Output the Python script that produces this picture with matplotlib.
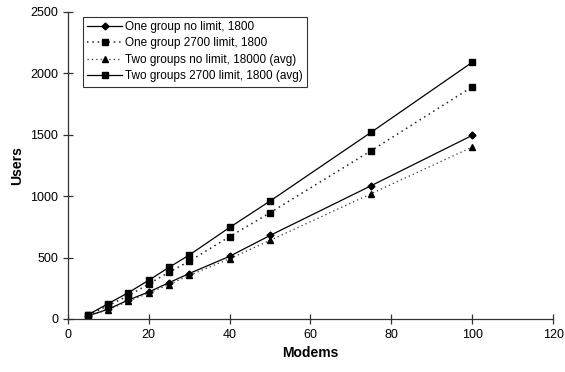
import matplotlib
matplotlib.use("Agg")
import matplotlib.pyplot as plt

modems = [5, 10, 15, 20, 25, 30, 40, 50, 75, 100]
one_no_limit = [25, 80, 155, 220, 295, 370, 510, 680, 1085, 1495]
one_2700 = [30, 110, 190, 285, 380, 470, 670, 865, 1370, 1890]
two_no_limit = [25, 75, 145, 210, 280, 355, 490, 640, 1020, 1400]
two_2700 = [35, 125, 215, 315, 420, 520, 745, 960, 1520, 2090]
labels = ["One group no limit, 1800", "One group 2700 limit, 1800",
          "Two groups no limit, 18000 (avg)", "Two groups 2700 limit, 1800 (avg)"]

plt.rcParams['font.family'] = ['Liberation Sans', 'DejaVu Sans']
fig = plt.figure(figsize=(5.65, 3.72), dpi=100)
ax = fig.add_axes([0.120, 0.1425, 0.859, 0.8255])

ax.plot(modems, one_no_limit, '-', color='black', lw=0.9, marker='D', ms=3.5, label=labels[0])
ax.plot(modems, one_2700, linestyle=(0, (1, 2.5)), color='#222222', lw=1.1, marker='s', ms=5,
        mfc='black', mec='black', label=labels[1])
ax.plot(modems, two_no_limit, linestyle=(0, (1, 2.5)), color='#333333', lw=0.9, marker='^', ms=4.5,
        mfc='black', mec='black', label=labels[2])
ax.plot(modems, two_2700, '-', color='black', lw=0.9, marker='s', ms=5, label=labels[3])

ax.set_xlim(0, 120)
ax.set_ylim(0, 2500)
ax.set_xticks(range(0, 121, 20))
ax.set_yticks(range(0, 2501, 500))
ax.tick_params(direction='inout', length=7, width=0.9, labelsize=9, color='#333333')
for s in ['top', 'right']:
    ax.spines[s].set_visible(False)
for s in ['left', 'bottom']:
    ax.spines[s].set_linewidth(0.9)
    ax.spines[s].set_color('#333333')
ax.set_xlabel('Modems', fontsize=10, fontweight='bold')
ax.set_ylabel('Users', fontsize=10, fontweight='bold')

leg = ax.legend(loc='upper left', bbox_to_anchor=(0.031, 0.984), fontsize=8.5,
                frameon=True, fancybox=False, edgecolor='black', handlelength=3,
                borderpad=0.35, labelspacing=0.38, handletextpad=0.25, borderaxespad=0)
leg.get_frame().set_linewidth(0.8)

fig.savefig('out.png', dpi=100)
